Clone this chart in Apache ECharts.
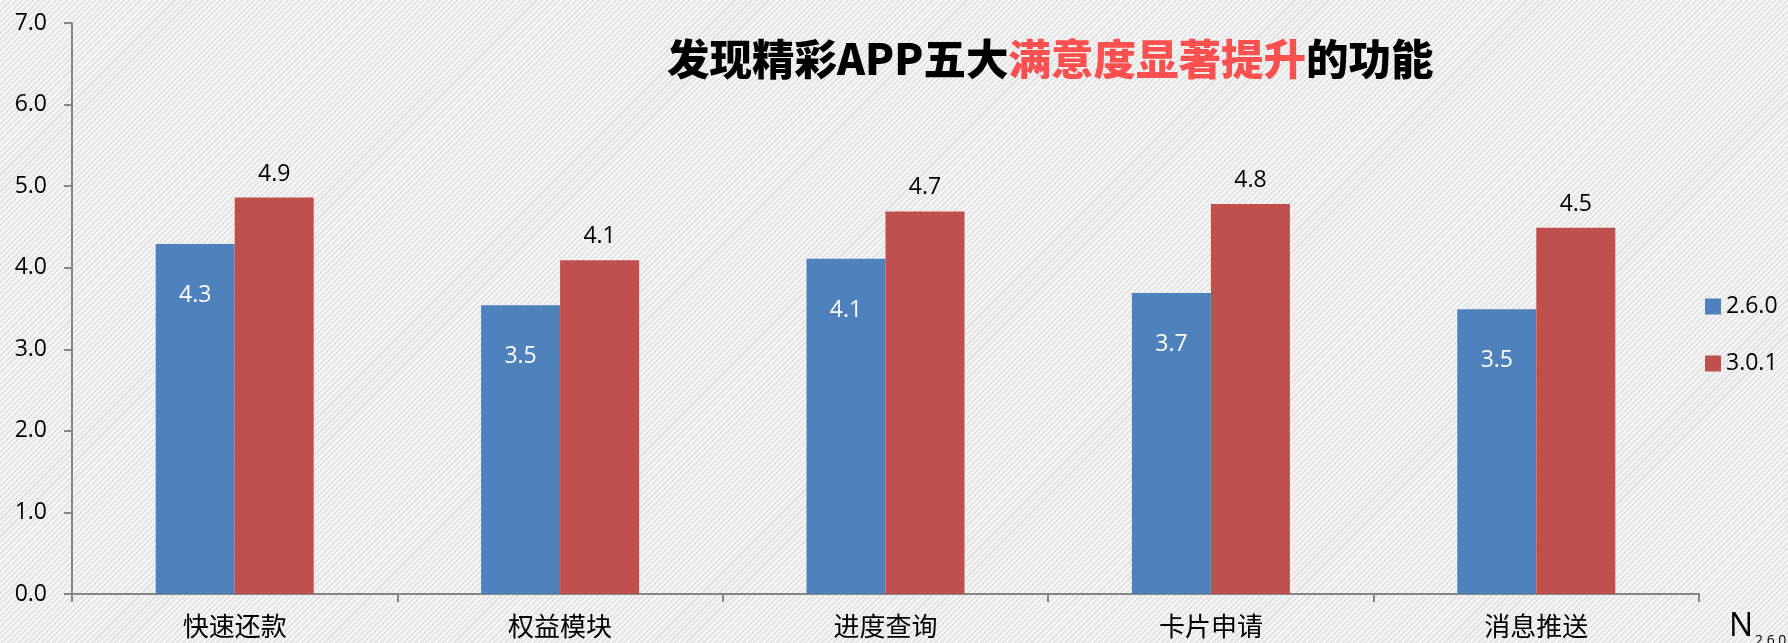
<!DOCTYPE html>
<html lang="zh">
<head>
    <meta charset="UTF-8">
    <title>发现精彩APP五大满意度显著提升的功能</title>
    <script src="https://cdn.jsdelivr.net/npm/echarts@6/dist/echarts.min.js"></script>
</head>
<style>
    *{
        margin: 0px;
        padding: 0px;
    }
    body{
        /*斜纹背景*/
        background: repeating-linear-gradient(-45deg, #f4f4f4 0px, #f4f4f4 2.5px, #e2e2e2 2.5px, #e2e2e2 4px);
    }
    #main{
        width: 1788px;
        height: 643px;
    }
</style>
<body>
<div id="main"></div>
<script type="text/javascript">
    // 数据
    var categories = ["快速还款", "权益模块", "进度查询", "卡片申请", "消息推送"];
    var seriesNames = ["2.6.0", "3.0.1"];
    var v260 = [4.29, 3.54, 4.11, 3.69, 3.49];
    var v301 = [4.86, 4.09, 4.69, 4.78, 4.49];
    var yTicks = [0, 7, 1]; // min, max, interval

    var cjk = '"Noto Sans CJK SC", "Noto Sans", sans-serif';
    var num = '"Open Sans", "Noto Sans", sans-serif';

    var myChart = echarts.init(document.getElementById('main'), null, {renderer: 'canvas'});
    var option = {
        backgroundColor: 'transparent',
        animation: false,
        title: {
            text: '{a|发现精彩APP五大}{b|满意度显著提升}{a|的功能}',
            left: 662,
            top: 33,
            textStyle: {
                rich: {
                    a: {fontSize: 42.5, fontWeight: 900, color: '#000', fontFamily: cjk},
                    b: {fontSize: 42.5, fontWeight: 900, color: '#FF5050', fontFamily: cjk}
                }
            }
        },
        legend: {
            orient: 'vertical',
            left: 1700,
            top: 290,
            itemWidth: 16,
            itemHeight: 16,
            itemGap: 34,
            icon: 'rect',
            data: seriesNames,
            textStyle: {fontSize: 23, color: '#000', fontFamily: num}
        },
        grid: {
            left: 72,
            right: 89,
            top: 23,
            bottom: 49,
            containLabel: false
        },
        xAxis: {
            type: 'category',
            data: categories,
            axisLine: {lineStyle: {color: '#868686', width: 2}},
            axisTick: {show: true, length: 8, lineStyle: {color: '#868686', width: 2}},
            axisLabel: {fontSize: 26, color: '#000', margin: 19, fontFamily: cjk}
        },
        yAxis: {
            type: 'value',
            min: yTicks[0],
            max: yTicks[1],
            interval: yTicks[2],
            splitLine: {show: false},
            axisLine: {show: true, lineStyle: {color: '#868686', width: 2}},
            axisTick: {show: true, length: 8, lineStyle: {color: '#868686', width: 2}},
            axisLabel: {
                fontSize: 23, color: '#000', margin: 25, fontFamily: num,
                formatter: function (v) { return v.toFixed(1); }
            }
        },
        series: [{
            name: seriesNames[0],
            type: 'bar',
            data: v260,
            barWidth: 79,
            barGap: '0%',
            itemStyle: {color: '#4F81BD'},
            label: {
                show: true,
                position: 'insideTop',
                distance: 40,
                fontSize: 23,
                color: '#fff',
                fontFamily: num,
                formatter: function (p) { return p.value.toFixed(1); }
            }
        }, {
            name: seriesNames[1],
            type: 'bar',
            data: v301,
            barWidth: 79,
            barGap: '0%',
            itemStyle: {color: '#C0504D'},
            label: {
                show: true,
                position: 'top',
                distance: 12,
                fontSize: 23,
                color: '#000',
                fontFamily: num,
                formatter: function (p) { return p.value.toFixed(1); }
            }
        }],
        graphic: [{
            type: 'text',
            left: 1729,
            top: 611,
            style: {text: 'N', fontSize: 32, fill: '#000', fontFamily: num}
        }, {
            type: 'text',
            left: 1755,
            top: 634,
            style: {text: '2.6.0', fontSize: 14, fill: '#000', fontFamily: num}
        }]
    };
    myChart.setOption(option);
</script>
</body>
</html>
